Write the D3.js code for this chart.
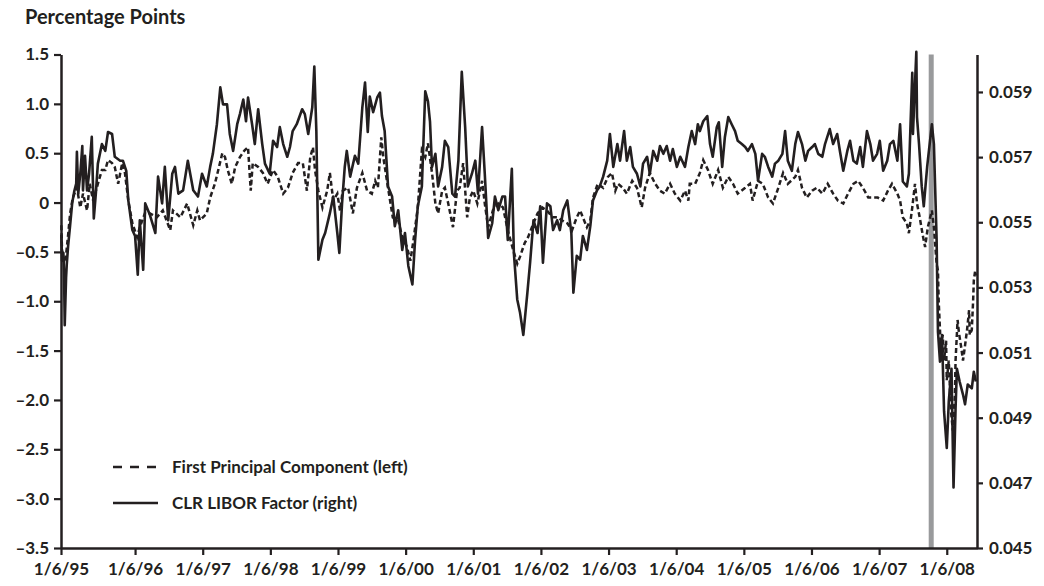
<!DOCTYPE html>
<html>
<head>
<meta charset="utf-8">
<script src="https://cdn.jsdelivr.net/npm/d3@7"></script>
<style>
  body { margin: 0; background: #fff; }
  svg text { font-family: Lato, "Open Sans", sans-serif; fill: #231f20; }
</style>
</head>
<body>
<svg id="chart" width="1044" height="586"></svg>
<script>
// Time is in fractional years; the series begin with the 1/6/95 observation.
const seriesStart = 1994.905;
const seriesEnd = 2008.447;
const yearTicks = [1996, 1997, 1998, 1999, 2000, 2001, 2002, 2003, 2004, 2005, 2006, 2007, 2008];
const xTickLabels = ["1/6/95", "1/6/96", "1/6/97", "1/6/98", "1/6/99", "1/6/00", "1/6/01",
                     "1/6/02", "1/6/03", "1/6/04", "1/6/05", "1/6/06", "1/6/07", "1/6/08"];
const leftTicks = [1.5, 1.0, 0.5, 0, -0.5, -1.0, -1.5, -2.0, -2.5, -3.0, -3.5];
const rightTicks = [0.045, 0.047, 0.049, 0.051, 0.053, 0.055, 0.057, 0.059];
const crisisMark = 2007.77;

const legendLabels = ["First Principal Component (left)", "CLR LIBOR Factor (right)"];

// CLR LIBOR factor, right axis
const liborFactor = [
[1994.91,0.05461],[1994.92,0.05382],[1994.94,0.05406],[1994.95,0.05345],[1994.96,0.05184],[1994.98,0.05330],[1994.99,0.05370],[1995.01,0.05427],[1995.04,0.05491],[1995.07,0.05558],[1995.10,0.05594],[1995.13,0.05619],[1995.14,0.05716],[1995.16,0.05588],[1995.19,0.05649],[1995.22,0.05734],[1995.23,0.05598],[1995.26,0.05704],[1995.29,0.05598],[1995.32,0.05649],[1995.36,0.05762],[1995.39,0.05512],[1995.42,0.05588],[1995.45,0.05680],[1995.51,0.05740],[1995.56,0.05719],[1995.60,0.05777],[1995.66,0.05771],[1995.70,0.05701],[1995.78,0.05689],[1995.82,0.05689],[1995.87,0.05658],[1995.90,0.05567],[1995.96,0.05476],
[1996.00,0.05458],[1996.04,0.05339],[1996.07,0.05506],[1996.12,0.05354],[1996.15,0.05558],[1996.22,0.05522],[1996.30,0.05467],[1996.34,0.05640],[1996.40,0.05558],[1996.44,0.05670],[1996.49,0.05506],[1996.55,0.05649],[1996.59,0.05670],[1996.64,0.05588],[1996.71,0.05598],[1996.78,0.05689],[1996.86,0.05598],[1996.93,0.05579],[1996.99,0.05649],
[1997.06,0.05610],[1997.11,0.05670],[1997.15,0.05710],[1997.21,0.05801],[1997.26,0.05914],[1997.30,0.05862],[1997.36,0.05862],[1997.40,0.05771],[1997.45,0.05719],[1997.51,0.05801],[1997.55,0.05832],[1997.60,0.05877],[1997.64,0.05810],[1997.67,0.05883],[1997.73,0.05801],[1997.77,0.05740],[1997.82,0.05847],[1997.88,0.05740],[1997.92,0.05680],[1997.99,0.05649],
[1998.04,0.05750],[1998.10,0.05731],[1998.14,0.05792],[1998.19,0.05740],[1998.25,0.05701],[1998.29,0.05731],[1998.33,0.05780],[1998.39,0.05801],[1998.47,0.05847],[1998.51,0.05832],[1998.56,0.05771],[1998.62,0.05853],[1998.65,0.05978],[1998.68,0.05780],[1998.71,0.05385],[1998.77,0.05446],[1998.81,0.05467],[1998.88,0.05528],[1998.93,0.05579],[1998.99,0.05467],
[1999.02,0.05406],[1999.06,0.05558],[1999.10,0.05670],[1999.13,0.05719],[1999.18,0.05640],[1999.25,0.05704],[1999.30,0.05680],[1999.36,0.05853],[1999.40,0.05929],[1999.44,0.05777],[1999.47,0.05886],[1999.52,0.05838],[1999.58,0.05883],[1999.62,0.05898],[1999.65,0.05826],[1999.69,0.05780],[1999.74,0.05610],[1999.80,0.05579],[1999.84,0.05488],[1999.89,0.05537],[1999.95,0.05415],[1999.99,0.05467],
[2000.04,0.05366],[2000.10,0.05309],[2000.14,0.05446],[2000.18,0.05549],[2000.24,0.05610],[2000.29,0.05902],[2000.33,0.05871],[2000.36,0.05810],[2000.39,0.05670],[2000.44,0.05710],[2000.48,0.05610],[2000.54,0.05670],[2000.58,0.05750],[2000.63,0.05731],[2000.69,0.05588],[2000.73,0.05579],[2000.78,0.05689],[2000.83,0.05962],[2000.88,0.05792],[2000.92,0.05610],[2000.98,0.05649],
[2001.03,0.05689],[2001.07,0.05588],[2001.13,0.05792],[2001.17,0.05649],[2001.22,0.05452],[2001.28,0.05497],[2001.32,0.05579],[2001.37,0.05537],[2001.43,0.05579],[2001.47,0.05579],[2001.51,0.05446],[2001.57,0.05664],[2001.60,0.05406],[2001.65,0.05263],[2001.69,0.05224],[2001.74,0.05154],[2001.80,0.05284],[2001.84,0.05376],[2001.89,0.05506],[2001.95,0.05467],[2001.99,0.05549],
[2002.03,0.05376],[2002.09,0.05558],[2002.14,0.05549],[2002.18,0.05476],[2002.24,0.05506],[2002.28,0.05476],[2002.33,0.05537],[2002.39,0.05567],[2002.45,0.05467],[2002.48,0.05284],[2002.53,0.05397],[2002.58,0.05385],[2002.62,0.05458],[2002.68,0.05415],[2002.73,0.05488],[2002.77,0.05567],[2002.83,0.05598],[2002.87,0.05610],[2002.92,0.05640],[2002.98,0.05689],
[2003.02,0.05771],[2003.07,0.05670],[2003.13,0.05740],[2003.17,0.05689],[2003.23,0.05780],[2003.27,0.05689],[2003.32,0.05731],[2003.36,0.05670],[2003.42,0.05649],[2003.47,0.05610],[2003.51,0.05680],[2003.57,0.05701],[2003.61,0.05649],[2003.66,0.05719],[2003.72,0.05689],[2003.76,0.05734],[2003.81,0.05710],[2003.86,0.05734],[2003.91,0.05689],[2003.95,0.05725],
[2004.01,0.05670],[2004.06,0.05701],[2004.13,0.05670],[2004.18,0.05731],[2004.23,0.05780],[2004.28,0.05740],[2004.32,0.05801],[2004.35,0.05780],[2004.40,0.05810],[2004.46,0.05826],[2004.50,0.05740],[2004.54,0.05701],[2004.60,0.05792],[2004.63,0.05807],[2004.68,0.05670],[2004.72,0.05762],[2004.77,0.05823],[2004.82,0.05801],[2004.87,0.05780],[2004.91,0.05750],[2004.97,0.05740],
[2005.02,0.05731],[2005.06,0.05719],[2005.12,0.05740],[2005.17,0.05710],[2005.21,0.05628],[2005.27,0.05710],[2005.31,0.05701],[2005.36,0.05670],[2005.42,0.05640],[2005.46,0.05680],[2005.51,0.05689],[2005.57,0.05710],[2005.61,0.05780],[2005.65,0.05689],[2005.71,0.05658],[2005.76,0.05740],[2005.80,0.05777],[2005.86,0.05740],[2005.91,0.05689],[2005.95,0.05719],
[2006.01,0.05731],[2006.05,0.05740],[2006.10,0.05710],[2006.16,0.05701],[2006.20,0.05740],[2006.27,0.05786],[2006.32,0.05740],[2006.38,0.05771],[2006.42,0.05719],[2006.47,0.05658],[2006.53,0.05719],[2006.57,0.05750],[2006.62,0.05689],[2006.67,0.05680],[2006.72,0.05731],[2006.76,0.05670],[2006.82,0.05780],[2006.87,0.05740],[2006.91,0.05689],[2006.97,0.05710],
[2007.01,0.05750],[2007.06,0.05658],[2007.12,0.05689],[2007.16,0.05740],[2007.21,0.05750],[2007.27,0.05689],[2007.31,0.05801],[2007.35,0.05625],[2007.41,0.05610],[2007.44,0.05649],[2007.49,0.05959],[2007.50,0.05771],[2007.55,0.06023],[2007.56,0.05823],[2007.59,0.05740],[2007.63,0.05610],[2007.66,0.05549],[2007.71,0.05670],[2007.72,0.05689],[2007.78,0.05801],[2007.81,0.05740],[2007.85,0.05446],[2007.87,0.05163],[2007.90,0.05072],[2007.93,0.05154],[2007.96,0.04920],
[2008.00,0.04807],[2008.03,0.04950],[2008.07,0.05050],[2008.10,0.04686],[2008.13,0.04929],[2008.15,0.05050],[2008.19,0.05011],[2008.24,0.04971],[2008.27,0.04941],[2008.31,0.05002],[2008.37,0.04990],[2008.40,0.05041],[2008.43,0.05011]
];

// First principal component, left axis (percentage points)
const firstComponent = [
[1994.91,-0.23],[1994.92,-0.48],[1994.95,-0.61],[1994.98,-0.53],[1995.01,-0.33],[1995.04,-0.11],[1995.08,0.05],[1995.14,0.15],[1995.19,-0.05],[1995.23,0.09],[1995.29,-0.08],[1995.33,0.19],[1995.38,0.02],[1995.45,0.19],[1995.51,0.33],[1995.56,0.33],[1995.60,0.43],[1995.66,0.40],[1995.70,0.36],[1995.75,0.19],[1995.81,0.40],[1995.85,0.30],[1995.90,0.02],[1995.96,-0.21],
[1996.03,-0.35],[1996.07,-0.25],[1996.15,-0.10],[1996.22,-0.11],[1996.32,-0.15],[1996.41,-0.08],[1996.52,-0.28],[1996.56,-0.08],[1996.67,-0.15],[1996.77,-0.01],[1996.86,-0.23],[1996.92,-0.08],[1996.96,-0.18],
[1997.06,-0.11],[1997.11,0.05],[1997.18,0.19],[1997.23,0.33],[1997.29,0.50],[1997.33,0.46],[1997.37,0.33],[1997.43,0.19],[1997.48,0.36],[1997.55,0.46],[1997.62,0.53],[1997.67,0.56],[1997.71,0.12],[1997.74,0.40],[1997.82,0.36],[1997.89,0.30],[1997.96,0.19],
[1998.04,0.33],[1998.11,0.26],[1998.19,0.09],[1998.26,0.15],[1998.33,0.30],[1998.41,0.40],[1998.48,0.40],[1998.54,0.12],[1998.59,0.46],[1998.63,0.56],[1998.66,0.33],[1998.71,0.12],[1998.77,-0.05],[1998.84,0.12],[1998.88,0.30],[1998.93,0.02],[1998.99,0.09],
[1999.03,-0.08],[1999.07,0.12],[1999.15,0.15],[1999.22,-0.11],[1999.28,0.15],[1999.36,0.30],[1999.43,0.12],[1999.50,0.09],[1999.55,0.22],[1999.59,0.15],[1999.64,0.66],[1999.67,0.46],[1999.73,0.19],[1999.77,0.02],[1999.81,-0.15],[1999.89,-0.18],[1999.95,-0.35],
[2000.02,-0.45],[2000.07,-0.59],[2000.11,-0.41],[2000.18,-0.05],[2000.24,0.53],[2000.29,0.46],[2000.33,0.60],[2000.39,0.30],[2000.44,-0.01],[2000.48,-0.11],[2000.54,0.12],[2000.58,0.15],[2000.63,-0.01],[2000.70,-0.25],[2000.76,0.12],[2000.80,0.15],[2000.85,0.40],[2000.91,-0.15],[2000.95,0.05],
[2001.00,0.12],[2001.06,-0.01],[2001.13,0.22],[2001.17,-0.01],[2001.22,-0.25],[2001.29,-0.08],[2001.37,-0.01],[2001.44,-0.05],[2001.51,-0.28],[2001.59,-0.48],[2001.65,-0.62],[2001.69,-0.55],[2001.76,-0.41],[2001.81,-0.35],[2001.89,-0.21],[2001.95,-0.11],
[2002.02,-0.05],[2002.09,-0.08],[2002.17,-0.15],[2002.24,-0.15],[2002.31,-0.18],[2002.39,-0.21],[2002.46,-0.28],[2002.53,-0.15],[2002.58,-0.08],[2002.62,-0.15],[2002.68,-0.25],[2002.73,-0.18],[2002.77,0.05],[2002.84,0.19],[2002.92,0.15],[2002.99,0.26],
[2003.05,0.30],[2003.10,0.12],[2003.14,0.19],[2003.21,0.15],[2003.27,0.09],[2003.35,0.22],[2003.42,0.15],[2003.49,-0.05],[2003.54,0.15],[2003.61,0.30],[2003.69,0.19],[2003.76,0.12],[2003.83,0.09],[2003.91,0.19],[2003.98,0.09],
[2004.06,0.02],[2004.13,0.12],[2004.18,0.02],[2004.20,0.19],[2004.28,0.19],[2004.35,0.30],[2004.40,0.43],[2004.47,0.33],[2004.54,0.19],[2004.62,0.33],[2004.69,0.15],[2004.77,0.26],[2004.84,0.19],[2004.91,0.09],
[2005.02,0.15],[2005.09,0.19],[2005.13,0.02],[2005.21,0.22],[2005.28,0.19],[2005.36,0.05],[2005.43,-0.01],[2005.51,0.15],[2005.58,0.30],[2005.65,0.19],[2005.76,0.26],[2005.80,0.33],[2005.86,0.15],[2005.93,0.05],
[2006.01,0.12],[2006.08,0.15],[2006.16,0.09],[2006.24,0.19],[2006.32,0.09],[2006.39,0.02],[2006.47,-0.01],[2006.54,0.09],[2006.62,0.19],[2006.69,0.22],[2006.76,0.15],[2006.84,0.05],[2006.91,0.05],[2006.98,0.05],
[2007.06,0.02],[2007.13,0.12],[2007.19,0.19],[2007.27,0.09],[2007.31,0.02],[2007.35,-0.15],[2007.41,-0.21],[2007.44,-0.31],[2007.49,-0.05],[2007.53,0.19],[2007.56,-0.01],[2007.60,-0.15],[2007.65,-0.35],[2007.68,-0.45],[2007.72,-0.25],[2007.78,-0.08],[2007.81,-0.25],[2007.85,-0.62],[2007.87,-0.69],[2007.88,-0.99],[2007.90,-1.29],[2007.91,-1.45],[2007.94,-1.34],[2007.96,-1.60],[2007.99,-1.40],
[2008.00,-1.80],[2008.03,-1.60],[2008.06,-2.10],[2008.09,-2.31],[2008.12,-1.95],[2008.13,-1.60],[2008.16,-1.19],[2008.18,-1.32],[2008.21,-1.45],[2008.24,-1.60],[2008.27,-1.45],[2008.30,-1.29],[2008.33,-1.09],[2008.34,-1.34],[2008.37,-1.29],[2008.39,-0.99],[2008.40,-0.79],[2008.42,-0.69],[2008.43,-0.74]
];

const ink = "#231f20";
const svg = d3.select("#chart");

const plot = { left: 61, right: 977, top: 54.5, bottom: 548 };

const x = d3.scaleLinear().domain([seriesStart, seriesEnd]).range([plot.left, plot.right]);
const yLeft = d3.scaleLinear().domain([-3.5, 1.5]).range([plot.bottom, plot.top]);
const yRight = d3.scaleLinear().domain([0.045, 0.06015]).range([plot.bottom, plot.top]);

// Title
svg.append("text")
  .attr("x", 25).attr("y", 24)
  .attr("font-size", 20).attr("font-weight", 700)
  .text("Percentage Points");

// Shaded marker
svg.append("rect")
  .attr("x", x(crisisMark) - 2.5)
  .attr("y", yLeft(1.5))
  .attr("width", 5)
  .attr("height", yLeft(-3.5) - yLeft(1.5))
  .attr("fill", "#999a9c");

// Series
const lineLeft = d3.line().x(d => x(d[0])).y(d => yLeft(d[1]));
const lineRight = d3.line().x(d => x(d[0])).y(d => yRight(d[1]));

svg.append("path")
  .datum(firstComponent)
  .attr("d", lineLeft)
  .attr("fill", "none")
  .attr("stroke", ink)
  .attr("stroke-width", 2.5)
  .attr("stroke-dasharray", "5,3");

svg.append("path")
  .datum(liborFactor)
  .attr("d", lineRight)
  .attr("fill", "none")
  .attr("stroke", ink)
  .attr("stroke-width", 2.6)
  .attr("stroke-linejoin", "round");

// Axes
const fmtLeft = d => d === 0 ? "0" : d3.format(".1f")(d).replace("−", "–").replace("-", "–");

function styleAxis(g) {
  g.select(".domain").attr("stroke", ink).attr("stroke-width", 2.5);
  g.selectAll(".tick line").attr("stroke", ink).attr("stroke-width", 2.2);
  g.selectAll(".tick text")
    .attr("fill", ink)
    .attr("font-family", 'Lato, "Open Sans", sans-serif')
    .attr("font-size", 17)
    .attr("font-weight", 700);
}

svg.append("g")
  .attr("transform", `translate(${plot.left},0)`)
  .call(d3.axisLeft(yLeft).tickValues(leftTicks).tickFormat(fmtLeft).tickSize(7).tickSizeOuter(0).tickPadding(5))
  .call(styleAxis);

svg.append("g")
  .attr("transform", `translate(${plot.right},0)`)
  .call(d3.axisRight(yRight).tickValues(rightTicks).tickFormat(d3.format(".3f")).tickSize(6).tickSizeOuter(0).tickPadding(6))
  .call(styleAxis);

svg.append("g")
  .attr("transform", `translate(0,${plot.bottom})`)
  .call(d3.axisBottom(x).tickValues([seriesStart, ...yearTicks]).tickFormat((d, i) => xTickLabels[i]).tickSize(7).tickSizeOuter(0).tickPadding(8))
  .call(styleAxis);

// Legend
const legend = svg.append("g").attr("transform", "translate(113,0)");
const legendRows = [
  { y: 467, dash: "9,8" },
  { y: 503, dash: null }
];
legendRows.forEach((row, i) => {
  legend.append("line")
    .attr("x1", 0).attr("x2", 45)
    .attr("y1", row.y).attr("y2", row.y)
    .attr("stroke", ink).attr("stroke-width", 2.5)
    .attr("stroke-dasharray", row.dash);
  legend.append("text")
    .attr("x", 59).attr("y", row.y + 6)
    .attr("font-size", 17).attr("font-weight", 700)
    .text(legendLabels[i]);
});
</script>
</body>
</html>
